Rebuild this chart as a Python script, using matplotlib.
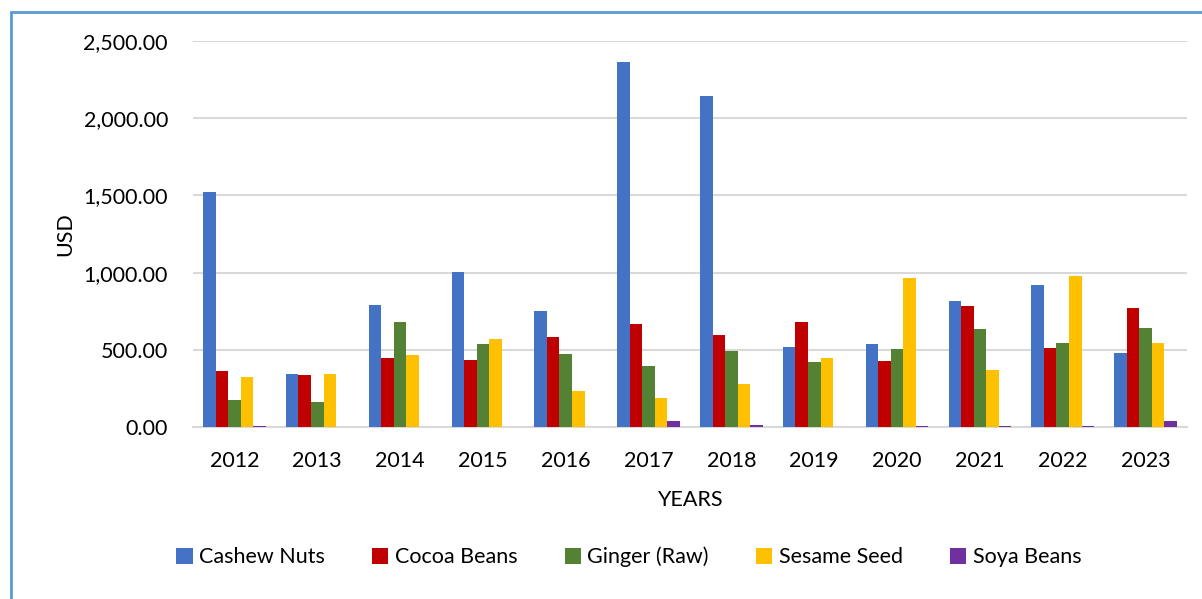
import numpy as np
import matplotlib.pyplot as plt
from matplotlib.patches import Rectangle
from matplotlib.ticker import FuncFormatter

plt.rcParams['font.family'] = ['Lato', 'DejaVu Sans']

years = ['2012', '2013', '2014', '2015', '2016', '2017',
         '2018', '2019', '2020', '2021', '2022', '2023']
cashew = [1520, 342, 788, 1004, 751, 2366, 2142, 517, 535, 814, 922, 479]
cocoa = [361, 335, 445, 435, 583, 667, 597, 677, 429, 786, 511, 769]
ginger = [176, 160, 680, 540, 473, 393, 493, 422, 507, 632, 541, 642]
sesame = [325, 342, 469, 570, 234, 190, 280, 448, 962, 370, 976, 542]
soya = [4, 0, 2, 3, 0, 37, 10, 0, 8, 4, 4, 42]

series = [cashew, cocoa, ginger, sesame, soya]
names = ['Cashew Nuts', 'Cocoa Beans', 'Ginger (Raw)', 'Sesame Seed', 'Soya Beans']
colors = ['#4472C4', '#C00000', '#548235', '#FFC000', '#7030A0']

fig = plt.figure(figsize=(12.02, 5.99), dpi=100)
ax = fig.add_axes([193 / 1202, 1 - 427 / 599, (1187 - 193) / 1202, (427 - 41) / 599])

# outer chart border (cut off at right and bottom)
fig.patches.append(Rectangle((11 / 1202, -0.1), 1.2, 1 - 12 / 599 + 0.1,
                             transform=fig.transFigure, fill=False,
                             edgecolor='#5B9BD5', linewidth=2))

x = np.arange(len(years))
w = 0.151
for i, (vals, name, c) in enumerate(zip(series, names, colors)):
    ax.bar(x + (i - 2) * w, vals, width=w, color=c, label=name, zorder=3)

ax.set_xlim(-0.5, len(years) - 0.5)
ax.set_ylim(0, 2500)
ax.set_yticks(np.arange(0, 2501, 500))
ax.yaxis.set_major_formatter(FuncFormatter(lambda v, p: f'{v:,.2f}'))
ax.set_xticks(x)
ax.set_xticklabels(years)
ax.grid(axis='y', color='#D9D9D9', linewidth=1.5, zorder=0)
for s in ['top', 'right', 'left']:
    ax.spines[s].set_visible(False)
ax.spines['bottom'].set_color('#D9D9D9')
ax.spines['bottom'].set_linewidth(1.5)
ax.tick_params(axis='y', length=0, pad=18, labelsize=15.5)
ax.tick_params(axis='x', length=0, pad=17, labelsize=15.5)

ax.set_xlabel('YEARS', fontsize=15.5, labelpad=14)
ax.set_ylabel('USD', fontsize=15.5, labelpad=6)

ax.legend(loc='center', bbox_to_anchor=(629 / 1202, 1 - 557 / 599), bbox_transform=fig.transFigure,
          ncol=5, frameon=False, fontsize=15.5, handlelength=0.75, handleheight=0.75,
          handletextpad=0.3, columnspacing=2.2)

fig.savefig('out.png', dpi=100)
